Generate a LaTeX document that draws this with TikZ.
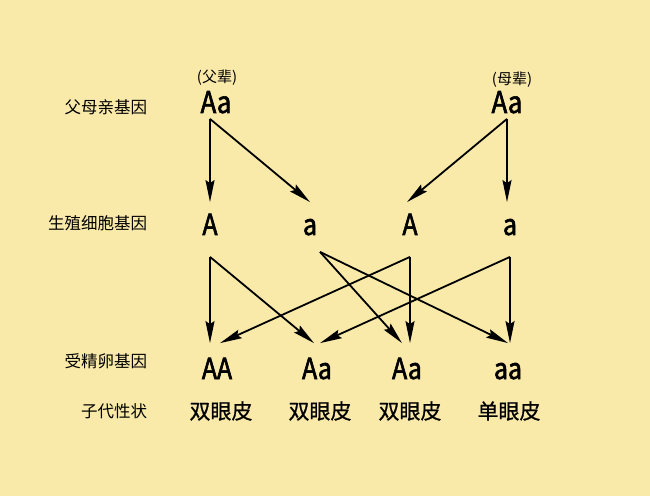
\documentclass[tikz,border=0pt]{standalone}
\usepackage{fontspec}
\setmainfont{Noto Sans CJK SC}
\newfontfamily\letterfont[FakeBold=2,FakeStretch=0.86]{Noto Sans CJK SC}
\newfontfamily\traitfont[FakeBold=0.8]{Noto Sans CJK SC}
\usepackage{xcolor}
\definecolor{paper}{RGB}{250,234,170}
\usetikzlibrary{arrows.meta}

\begin{document}
\begin{tikzpicture}
[x=1bp, y=-1bp,
 >={Stealth[length=22bp,width=9bp,inset=3bp]},
 line width=1.8bp,
 every edge/.style={draw, ->},
 rowname/.style={anchor=east, inner sep=0pt, font=\fontsize{16.5bp}{18bp}\selectfont},
 who/.style={inner sep=0pt, font=\fontsize{15bp}{16bp}\selectfont},
 parent/.style={anchor=base, inner sep=0pt, text height=22bp, text depth=5bp,
   font=\letterfont\fontsize{30bp}{30bp}\selectfont},
 gamete/.style={anchor=base, inner sep=0pt, text height=32bp, text depth=21bp,
   font=\letterfont\fontsize{29bp}{30bp}\selectfont},
 zygote/.style={anchor=base, inner sep=0pt, text height=35bp, text depth=0pt,
   font=\letterfont\fontsize{29bp}{30bp}\selectfont},
 trait/.style={inner sep=0pt, font=\traitfont\fontsize{21bp}{24bp}\selectfont},
]

\fill[paper] (0,0) rectangle (650,496);
\useasboundingbox (0,0) rectangle (650,496);

% row names
\node[rowname] (r1) at (148,107) {父母亲基因};
\node[rowname] (r2) at (148,223) {生殖细胞基因};
\node[rowname] (r3) at (148,361) {受精卵基因};
\node[rowname] (r4) at (148,411) {子代性状};

% parents
\node[who] (fatherlbl) at (217,78) {(父辈)};
\node[who] (motherlbl) at (512,80) {(母辈)};
\node[parent] (father) at (216,113) {Aa};
\node[parent] (mother) at (507,113) {Aa};

% gametes
\node[gamete] (g1) at (210,235) {A};
\node[gamete] (g2) at (310,235) {a};
\node[gamete] (g3) at (410,235) {A};
\node[gamete] (g4) at (510,235) {a};

% zygotes
\node[zygote] (z1) at (217,379) {AA};
\node[zygote] (z2) at (317,379) {Aa};
\node[zygote] (z3) at (407,379) {Aa};
\node[zygote] (z4) at (508,379) {aa};

% traits
\node[trait] (t1) at (221,411) {双眼皮};
\node[trait] (t2) at (320,411) {双眼皮};
\node[trait] (t3) at (410,411) {双眼皮};
\node[trait] (t4) at (509,411) {单眼皮};

\draw
([xshift=-6bp]father.south) edge (g1.north)
([xshift=-6bp]father.south) edge (g2.north)
(mother.south) edge ([xshift=-3bp]g3.north)
(mother.south) edge (mother.south |- g4.north)

(g1.south) edge (g1.south |- z1.north)
(g1.south) edge ([xshift=-3bp]z2.north)
([xshift=10bp,yshift=5bp]g2.south) edge ([xshift=-5bp]z3.north)
([xshift=10bp,yshift=5bp]g2.south) edge (z4.north)
(g3.south) edge ([xshift=3bp]z1.north)
(g3.south) edge (g3.south |- z3.north)
(g4.south) edge ([xshift=3bp]z2.north)
(g4.south) edge (g4.south |- z4.north);
\end{tikzpicture}
\end{document}
